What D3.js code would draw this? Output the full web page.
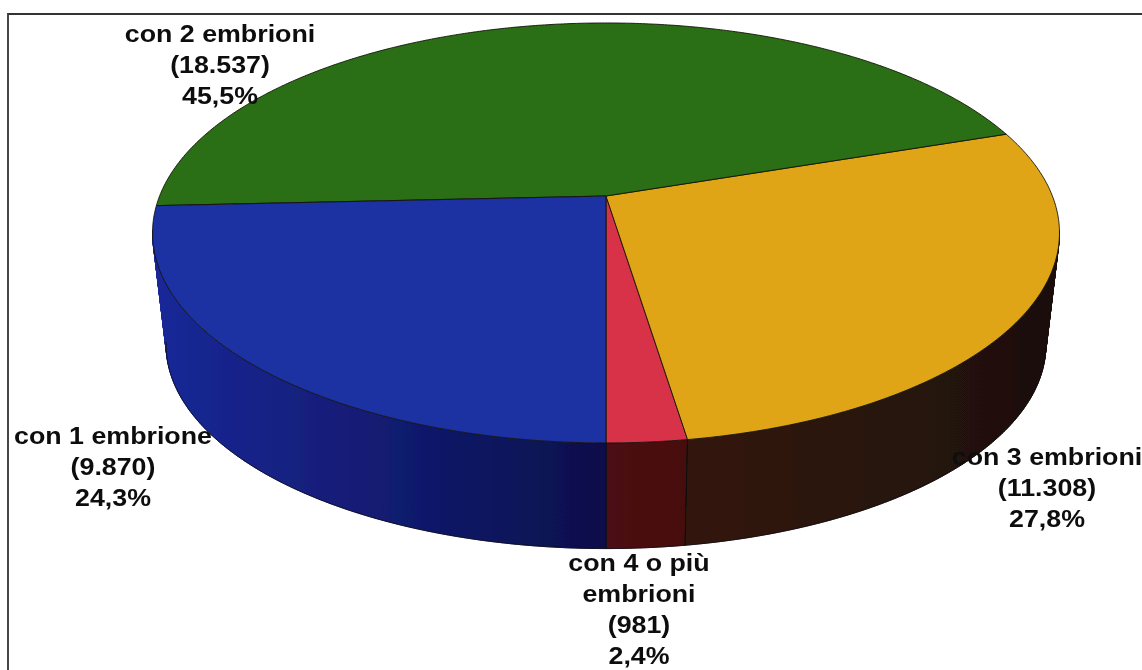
<!DOCTYPE html>
<html><head><meta charset="utf-8">
<style>html,body{margin:0;padding:0;background:#fff}svg{display:block}</style>
<script src="https://cdn.jsdelivr.net/npm/d3@7/dist/d3.min.js"></script></head>
<body><svg id="c" width="1142" height="670"></svg>
<script>
const names=[["con 4 o più","embrioni"],["con 3 embrioni"],["con 2 embrioni"],["con 1 embrione"]];
const counts=[981,11308,18537,9870];
const countLabels=["(981)","(11.308)","(18.537)","(9.870)"];
const percents=["2,4%","27,8%","45,5%","24,3%"];
const topColors=["#d8314a","#dfa518","#2b6e12","#1a30a2"];
const wallLeft=["#4c0a12","#33190f","#1a4a0a","#1a2898"];
const wallRight=["#470a10","#1d0f0e","#123306","#0a0f4a"];
const labelX=[639,1047,220,113];
const labelY=[571,465,42,444];
const labelStep=31;

const W=1142,H=670;
const svg=d3.select("#c");
const defs=svg.append("defs");
defs.append("filter").attr("id","soft").append("feGaussianBlur").attr("stdDeviation",0.45);

const cx=606,cy=196,Rx=446.4,Ry=203.5,p=0.176,cyB=309,sB=0.97;
// perspective projection of a rim point
const proj=(a,bottom)=>{
  const u=Math.sin(a),v=Math.cos(a),f=1/(1-p*v),s=bottom?sB:1,c=bottom?cyB:cy;
  return [cx+Rx*u*f*s,c+Ry*v*f*s];
};
const arcs=d3.pie().sort(null).startAngle(0).endAngle(2*Math.PI)(counts);
const line=d3.line().curve(d3.curveLinear);
const steps=(a0,a1)=>{const n=Math.max(2,Math.ceil((a1-a0)*120));return d3.range(n+1).map(i=>a0+(a1-a0)*i/n);};

svg.append("rect").attr("width",W).attr("height",H).attr("fill","#fff");
svg.append("path").attr("d",line([[8,H],[8,14],[W,14]])).attr("fill","none").attr("stroke","#333").attr("stroke-width",1.8);

const g=svg.append("g").attr("filter","url(#soft)");

// walls: one quad per angular step, so the silhouette between both rims is filled
arcs.forEach((d,i)=>{
  if(Math.max(Math.cos(d.startAngle),Math.cos(d.endAngle))<=p) return;
  const as=steps(d.startAngle,d.endAngle).filter(a=>Math.cos(a)>p-0.02);
  const tops=as.map(a=>proj(a,false)), bots=as.map(a=>proj(a,true));
  const xe=d3.extent(tops.concat(bots),q=>q[0]);
  const id="w"+i;
  const lg=defs.append("linearGradient").attr("id",id).attr("gradientUnits","userSpaceOnUse")
    .attr("x1",xe[0]).attr("x2",xe[1]).attr("y1",0).attr("y2",0);
  lg.append("stop").attr("offset",0).attr("stop-color",wallLeft[i]);
  lg.append("stop").attr("offset",1).attr("stop-color",wallRight[i]);
  const quads=d3.range(as.length-1).map(k=>line([tops[k],tops[k+1],bots[k+1],bots[k]])+"Z").join("");
  g.append("path").attr("d",quads).attr("fill",`url(#${id})`).attr("stroke",`url(#${id})`).attr("stroke-width",0.8);
  g.append("path").attr("d",line(bots)).attr("fill","none").attr("stroke","#0b0b14").attr("stroke-width",0.8);
  [d.startAngle,d.endAngle].forEach(a=>{
    if(Math.cos(a)>p) g.append("path").attr("d",line([proj(a,false),proj(a,true)])).attr("stroke","#0b0b10").attr("stroke-width",1);
  });
});
// top faces
arcs.forEach((d,i)=>{
  const pts=[[cx,cy]].concat(steps(d.startAngle,d.endAngle).map(a=>proj(a,false)));
  g.append("path").attr("d",line(pts)+"Z").attr("fill",topColors[i])
    .attr("stroke","#14140c").attr("stroke-width",0.9).attr("stroke-linejoin","round");
});
// labels
const t=svg.append("g").attr("filter","url(#soft)").attr("font-family","'Liberation Sans',Arial,sans-serif")
  .attr("font-weight",700).attr("font-size",23).attr("fill","#111").attr("text-anchor","middle");
names.forEach((nm,i)=>{
  nm.concat([countLabels[i],percents[i]]).forEach((s,j)=>{
    t.append("text").attr("transform",`translate(${labelX[i]},${labelY[i]+j*labelStep}) scale(1.165,1)`).text(s);
  });
});
</script></body></html>
